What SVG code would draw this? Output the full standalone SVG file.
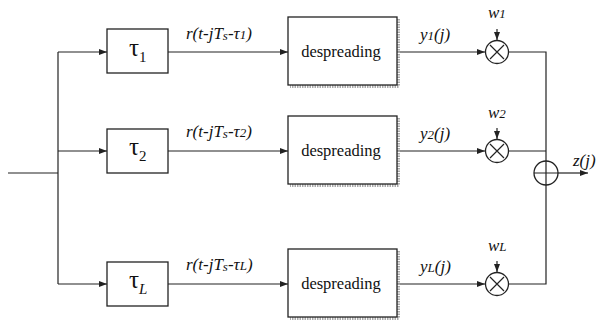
<svg xmlns="http://www.w3.org/2000/svg" width="601" height="322" viewBox="0 0 601 322">
<style>
.ln{stroke:#222;stroke-width:1.2;fill:none}
.bx{stroke:#222;stroke-width:1.3;fill:#fff}
.sh{fill:none;stroke:#aaa;stroke-width:3;stroke-dasharray:1.5 1}
text{font-family:'Liberation Serif',serif;fill:#111}
.tau{font-size:25px}
.sub{font-size:15px}
.dsp{font-size:16.5px}
.lab{font-size:17px;font-style:italic}
.sm{font-size:13px}
</style>
<defs>
<marker id="ar" markerWidth="8" markerHeight="6" refX="8" refY="3" orient="auto" markerUnits="userSpaceOnUse">
<path d="M0,0 L8,3 L0,6 z" fill="#222"/>
</marker>
</defs>
<g id="connectors">
<path class="ln" d="M8,173 H58"/>
<path class="ln" d="M58,52 V284"/>
<path class="ln" d="M58,52 H107" marker-end="url(#ar)"/>
<path class="ln" d="M58,151 H107" marker-end="url(#ar)"/>
<path class="ln" d="M58,284 H107" marker-end="url(#ar)"/>
<path class="ln" d="M168,52 H288" marker-end="url(#ar)"/>
<path class="ln" d="M168,151 H288" marker-end="url(#ar)"/>
<path class="ln" d="M168,284 H288" marker-end="url(#ar)"/>
<path class="ln" d="M397,52 H485" marker-end="url(#ar)"/>
<path class="ln" d="M397,151 H485" marker-end="url(#ar)"/>
<path class="ln" d="M397,284 H485" marker-end="url(#ar)"/>
<path class="ln" d="M497,29 V40" marker-end="url(#ar)"/>
<path class="ln" d="M497,128 V139" marker-end="url(#ar)"/>
<path class="ln" d="M497,261 V272" marker-end="url(#ar)"/>
<path class="ln" d="M509,52 H546 V284 H509"/>
<path class="ln" d="M509,151 H546"/>
<path class="ln" d="M558,173 H588" marker-end="url(#ar)"/>
<text class="lab" x="186" y="39">r(t-jT<tspan class="sm" dy="1">s</tspan><tspan dy="-1">-τ</tspan><tspan class="sm">1</tspan>)</text>
<text class="lab" x="186" y="137">r(t-jT<tspan class="sm" dy="1">s</tspan><tspan dy="-1">-τ</tspan><tspan class="sm">2</tspan>)</text>
<text class="lab" x="186" y="270">r(t-jT<tspan class="sm" dy="1">s</tspan><tspan dy="-1">-τ</tspan><tspan class="sm">L</tspan>)</text>
<text class="lab" x="420" y="40">y<tspan class="sm">1</tspan>(j)</text>
<text class="lab" x="420" y="139">y<tspan class="sm">2</tspan>(j)</text>
<text class="lab" x="420" y="272">y<tspan class="sm">L</tspan>(j)</text>
<text class="lab" x="488" y="18">w<tspan class="sm">1</tspan></text>
<text class="lab" x="488" y="118">w<tspan class="sm">2</tspan></text>
<text class="lab" x="488" y="251">w<tspan class="sm">L</tspan></text>
<text class="lab" x="573" y="166">z(j)</text>
</g>
<g id="tau1"><rect class="bx" x="107" y="29" width="61" height="44"/><text class="tau" x="129" y="56">τ<tspan class="sub" dy="6">1</tspan></text></g>
<g id="tau2"><rect class="bx" x="107" y="129" width="61" height="44"/><text class="tau" x="129" y="155">τ<tspan class="sub" dy="6">2</tspan></text></g>
<g id="tauL"><rect class="bx" x="107" y="262" width="61" height="44"/><text class="tau" x="129" y="288">τ<tspan class="sub" dy="6" font-style="italic">L</tspan></text></g>
<g id="desp1"><path class="sh" d="M398.5,19 V86.5 H290"/><rect class="bx" x="288" y="17" width="109" height="68"/><text class="dsp" x="341" y="57" text-anchor="middle">despreading</text></g>
<g id="desp2"><path class="sh" d="M398.5,118 V185.5 H290"/><rect class="bx" x="288" y="116" width="109" height="68"/><text class="dsp" x="341" y="156" text-anchor="middle">despreading</text></g>
<g id="despL"><path class="sh" d="M398.5,251 V318.5 H290"/><rect class="bx" x="288" y="249" width="109" height="68"/><text class="dsp" x="341" y="289" text-anchor="middle">despreading</text></g>
<g id="mul1"><circle class="bx" cx="497" cy="52" r="11.5"/><path class="ln" d="M490,45 L504,59 M504,45 L490,59"/></g>
<g id="mul2"><circle class="bx" cx="497" cy="151" r="11.5"/><path class="ln" d="M490,144 L504,158 M504,144 L490,158"/></g>
<g id="mulL"><circle class="bx" cx="497" cy="284" r="11.5"/><path class="ln" d="M490,277 L504,291 M504,277 L490,291"/></g>
<g id="sum"><circle class="bx" cx="546" cy="173" r="12"/><path class="ln" d="M534,173 H558 M546,161 V185"/></g>
</svg>
